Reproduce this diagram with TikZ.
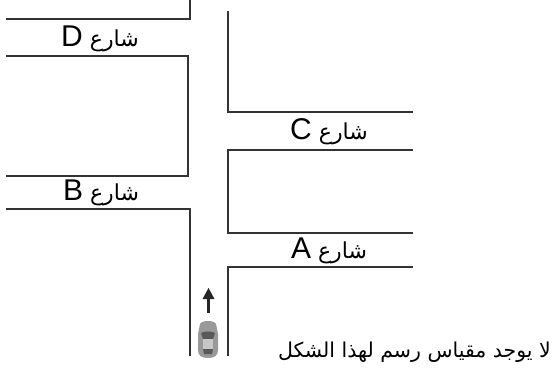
\documentclass[tikz,border=0pt]{standalone}
\usepackage{fontspec}
\setmainfont{Liberation Sans}
\newfontfamily\arabicfont[Script=Arabic]{DejaVu Sans}
\TeXXeTstate=1
\newcommand{\street}[1]{{\arabicfont\fontsize{22}{26}\selectfont\beginR شارع \beginL{\rmfamily\fontsize{30}{32}\selectfont #1}\endL\endR}}
\tikzset{road/.style={draw=black!80,line width=1.5pt},label/.style={inner sep=0pt,anchor=center}}
\begin{document}
\begin{tikzpicture}[x=1pt,y=-1pt]
\useasboundingbox (0,0) rectangle (553,369);
\coordinate (a1) at (190,0); \coordinate (a2) at (190,19); \coordinate (a3) at (6,19);
\draw[road] (a1) -- (a2) -- (a3);
\draw[road] (6,56) -- (188,56) -- (188,176) -- (6,176);
\draw[road] (6,209) -- (190,209) -- (190,356);
\draw[road] (228,11) -- (228,112) -- (413,112);
\draw[road] (413,150) -- (228,150) -- (228,233) -- (413,233);
\draw[road] (413,267) -- (228,267) -- (228,356);
\node[label] (d) at (100,39) {\street{D}};
\node[label] (b) at (101,193) {\street{B}};
\node[label] (c) at (329,132) {\street{C}};
\node[label] (a) at (329,251) {\street{A}};
\node[inner sep=0pt,anchor=east] (note) at (551,352) {\arabicfont\fontsize{20.5}{24}\selectfont\beginR لا يوجد مقياس رسم لهذا الشكل\endR};
% arrow
\coordinate (s) at (208.5,313); \coordinate (e) at (208.5,288);
\draw[line width=2.6pt,black!85] (s) -- (208.5,295);
\fill[black!85] (e) -- (214.5,299) -- (202.5,299) -- cycle;
% car
\fill[black!40] (200,324) .. controls (201,320) and (215,320) .. (216,324) -- (218,334) -- (218,350) .. controls (218,356) and (214,358) .. (208,358) .. controls (202,358) and (198,356) .. (198,350) -- (198,334) -- cycle;
\fill[black!65] (201,333) .. controls (204,331) and (212,331) .. (215,333) -- (213,339) -- (203,339) -- cycle;
\fill[black!65] (203,349) -- (213,349) -- (212,354) -- (204,354) -- cycle;
\fill[black!22] (203,339) rectangle (213,349);
\end{tikzpicture}
\end{document}
